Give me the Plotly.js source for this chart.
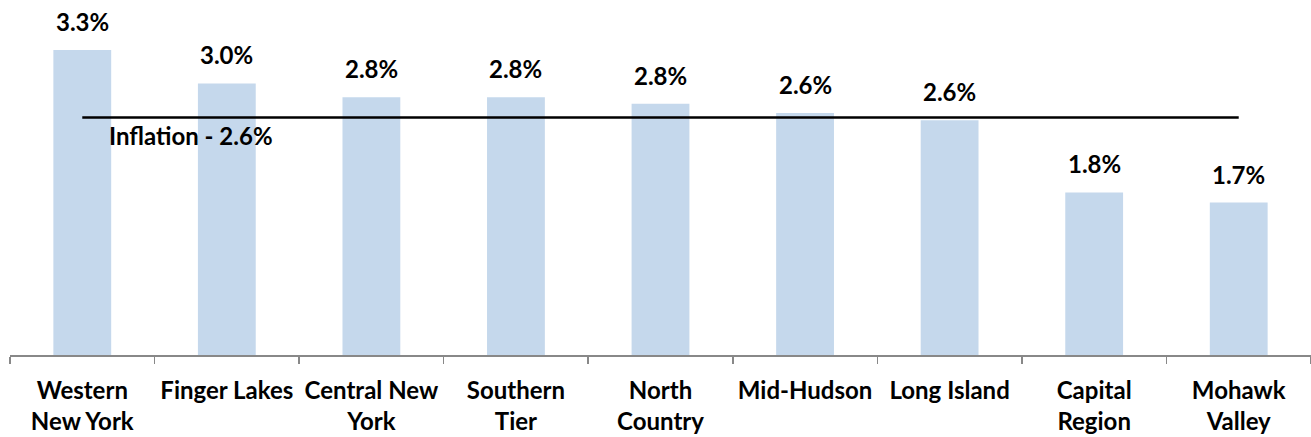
<!DOCTYPE html>
<html>
<head>
<meta charset="utf-8">
<script src="https://cdn.plot.ly/plotly-3.0.1.min.js"></script>
<style>
  html, body { margin: 0; padding: 0; background: #ffffff; }
  #chart { width: 1311px; height: 437px; }
</style>
</head>
<body>
<div id="chart"></div>
<script>
const regions = ["Western<br>New York", "Finger Lakes", "Central New<br>York", "Southern<br>Tier", "North<br>Country", "Mid-Hudson", "Long Island", "Capital<br>Region", "Mohawk<br>Valley"];
const growth = [3.30, 2.94, 2.79, 2.79, 2.72, 2.62, 2.54, 1.76, 1.65];
const growthLabels = ["3.3%", "3.0%", "2.8%", "2.8%", "2.8%", "2.6%", "2.6%", "1.8%", "1.7%"];
const inflation = [2.57, 2.57, 2.57, 2.57, 2.57, 2.57, 2.57, 2.57, 2.57];
const inflationLabel = "Inflation - 2.6%";

const FONT = "Lato, 'Open Sans', sans-serif";

const bars = {
  type: "bar",
  x: regions,
  y: growth,
  width: 0.4,
  marker: { color: "#c5d8ec", line: { width: 0 } },
  hoverinfo: "skip",
  showlegend: false
};

const line = {
  type: "scatter",
  mode: "lines",
  x: regions,
  y: inflation,
  line: { color: "#000000", width: 2.5 },
  hoverinfo: "skip",
  showlegend: false
};

const annotations = growth.map((v, i) => ({
  x: regions[i],
  y: v,
  xref: "x",
  yref: "y",
  text: "<b>" + growthLabels[i] + "</b>",
  showarrow: false,
  xanchor: "center",
  yanchor: "bottom",
  yshift: 12,
  font: { family: FONT, size: 24, color: "#000000" }
}));

annotations.push({
  x: regions[0],
  y: inflation[0],
  xref: "x",
  yref: "y",
  text: "<b>" + inflationLabel + "</b>",
  showarrow: false,
  xanchor: "left",
  yanchor: "top",
  xshift: 25,
  yshift: -1,
  font: { family: FONT, size: 24, color: "#000000" }
});

const layout = {
  width: 1311,
  height: 437,
  margin: { l: 10, r: 0, t: 20, b: 82 },
  paper_bgcolor: "#ffffff",
  plot_bgcolor: "#ffffff",
  font: { family: FONT, color: "#000000" },
  bargap: 0.6,
  xaxis: {
    type: "category",
    tickson: "boundaries",
    ticks: "outside",
    ticklen: 7,
    tickwidth: 1.5,
    tickcolor: "#888888",
    showline: true,
    linecolor: "#888888",
    linewidth: 2,
    showgrid: false,
    zeroline: false,
    ticklabelstandoff: 13,
    tickfont: { family: FONT, size: 24, color: "#000000", weight: "bold" }
  },
  yaxis: {
    range: [0, 3.626],
    visible: false,
    showgrid: false,
    zeroline: false
  },
  annotations: annotations
};

Plotly.newPlot("chart", [bars, line], layout, { displayModeBar: false, staticPlot: true });
</script>
</body>
</html>
